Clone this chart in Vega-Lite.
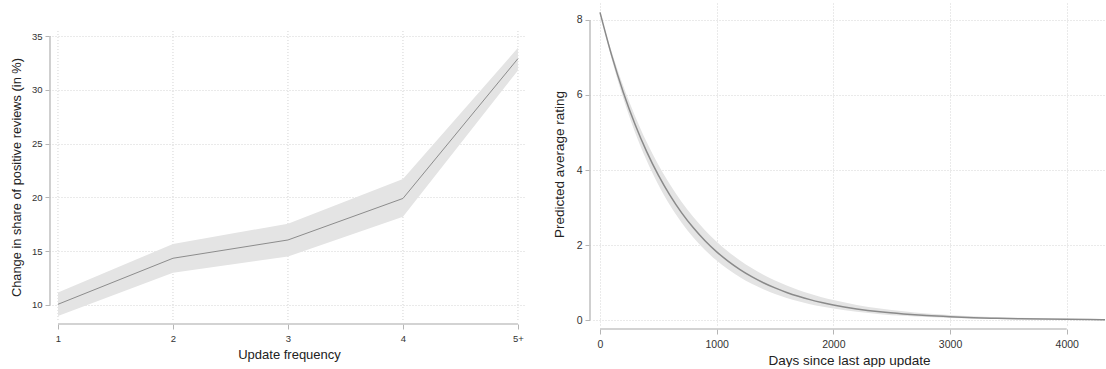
{
  "$schema": "https://vega.github.io/schema/vega-lite/v6.json",
  "padding": {"left": 10, "top": 3, "right": 0, "bottom": 0},
  "autosize": {"type": "pad"},
  "spacing": 26,
  "config": {
    "font": "Liberation Sans",
    "view": {"stroke": null},
    "axis": {
      "domain": false,
      "grid": true,
      "gridDash": [1, 2],
      "gridColor": "#d4d4d4",
      "gridWidth": 1,
      "tickColor": "#b5b5b5",
      "tickSize": 5,
      "tickWidth": 1,
      "labelColor": "#333333",
      "titleColor": "#222222",
      "titleFontWeight": "normal",
      "labelFont": "Liberation Sans",
      "titleFont": "Liberation Sans"
    }
  },
  "datasets": {
    "freq": [
      {"freq": 1, "mid": 10.06, "lower": 8.98, "upper": 11.15},
      {"freq": 2, "mid": 14.34, "lower": 13.0, "upper": 15.67},
      {"freq": 3, "mid": 16.04, "lower": 14.5, "upper": 17.55},
      {"freq": 4, "mid": 19.9, "lower": 18.2, "upper": 21.7},
      {"freq": 5, "mid": 32.9, "lower": 31.8, "upper": 33.9}
    ],
    "days": [
      {"days": 0, "mid": 8.2, "lower": 8.2, "upper": 8.2},
      {"days": 100, "mid": 7.054, "lower": 6.957, "upper": 7.152},
      {"days": 200, "mid": 6.068, "lower": 5.903, "upper": 6.238},
      {"days": 300, "mid": 5.221, "lower": 5.009, "upper": 5.441},
      {"days": 400, "mid": 4.491, "lower": 4.25, "upper": 4.746},
      {"days": 500, "mid": 3.864, "lower": 3.606, "upper": 4.139},
      {"days": 600, "mid": 3.324, "lower": 3.06, "upper": 3.611},
      {"days": 700, "mid": 2.859, "lower": 2.596, "upper": 3.149},
      {"days": 800, "mid": 2.46, "lower": 2.203, "upper": 2.747},
      {"days": 900, "mid": 2.116, "lower": 1.869, "upper": 2.396},
      {"days": 1000, "mid": 1.82, "lower": 1.586, "upper": 2.09},
      {"days": 1100, "mid": 1.566, "lower": 1.346, "upper": 1.823},
      {"days": 1200, "mid": 1.347, "lower": 1.142, "upper": 1.59},
      {"days": 1300, "mid": 1.159, "lower": 0.969, "upper": 1.387},
      {"days": 1400, "mid": 0.997, "lower": 0.822, "upper": 1.21},
      {"days": 1500, "mid": 0.858, "lower": 0.697, "upper": 1.055},
      {"days": 1600, "mid": 0.738, "lower": 0.592, "upper": 0.92},
      {"days": 1700, "mid": 0.635, "lower": 0.502, "upper": 0.803},
      {"days": 1800, "mid": 0.546, "lower": 0.426, "upper": 0.7},
      {"days": 1900, "mid": 0.47, "lower": 0.361, "upper": 0.611},
      {"days": 2000, "mid": 0.404, "lower": 0.307, "upper": 0.533},
      {"days": 2200, "mid": 0.299, "lower": 0.221, "upper": 0.405},
      {"days": 2400, "mid": 0.221, "lower": 0.159, "upper": 0.308},
      {"days": 2600, "mid": 0.164, "lower": 0.114, "upper": 0.235},
      {"days": 2800, "mid": 0.121, "lower": 0.082, "upper": 0.178},
      {"days": 3000, "mid": 0.09, "lower": 0.059, "upper": 0.136},
      {"days": 3200, "mid": 0.066, "lower": 0.043, "upper": 0.103},
      {"days": 3400, "mid": 0.049, "lower": 0.031, "upper": 0.079},
      {"days": 3600, "mid": 0.036, "lower": 0.022, "upper": 0.06},
      {"days": 3800, "mid": 0.027, "lower": 0.016, "upper": 0.045},
      {"days": 4000, "mid": 0.02, "lower": 0.012, "upper": 0.035},
      {"days": 4200, "mid": 0.015, "lower": 0.008, "upper": 0.026},
      {"days": 4400, "mid": 0.011, "lower": 0.006, "upper": 0.02}
    ],
    "freqticks": [{"t": 1}, {"t": 2}, {"t": 3}, {"t": 4}, {"t": 5}]
  },
  "hconcat": [
    {
      "width": 474,
      "height": 317,
      "layer": [
        {
          "data": {"name": "freqticks"},
          "mark": {"type": "rule", "color": "#d4d4d4", "strokeWidth": 1, "strokeDash": [1, 2]},
          "encoding": {
            "x": {"field": "t", "type": "quantitative"},
            "y": {"datum": 8.6}, "y2": {"datum": 35.56}
          }
        },
        {
          "data": {"name": "freq"},
          "mark": {"type": "area", "color": "#e4e4e4", "opacity": 1},
          "encoding": {
            "x": {
              "field": "freq", "type": "quantitative",
              "scale": {"domain": [0.948, 5.07], "nice": false, "zero": false},
              "axis": {
                "values": [1, 2, 3, 4, 5],
                "format": "d",
                "labelExpr": "datum.value == 5 ? '5+' : datum.label",
                "title": "Update frequency",
                "grid": false,
                "offset": 4, "labelPadding": 4, "titlePadding": 6,
                "labelFontSize": 9.5, "titleFontSize": 13
              }
            },
            "y": {
              "field": "lower", "type": "quantitative",
              "scale": {"domain": [8.6, 38.07], "nice": false, "zero": false},
              "axis": {
                "values": [10, 15, 20, 25, 30, 35],
                "title": "Change in share of positive reviews (in %)",
                "titleY": 174,
                "offset": 2, "labelPadding": 3, "titlePadding": 8,
                "labelFontSize": 9.5, "titleFontSize": 12.8
              }
            },
            "y2": {"field": "upper"}
          }
        },
        {
          "data": {"name": "freq"},
          "mark": {"type": "line", "color": "#8c8c8c", "strokeWidth": 1},
          "encoding": {
            "x": {"field": "freq", "type": "quantitative"},
            "y": {"field": "mid", "type": "quantitative"}
          }
        },
        {
          "data": {"values": [{}]},
          "mark": {"type": "rule", "color": "#c4c4c4", "strokeWidth": 1.6},
          "encoding": {
            "x": {"datum": 1}, "x2": {"datum": 5},
            "y": {"datum": 8.23}
          }
        },
        {
          "data": {"values": [{}]},
          "mark": {"type": "rule", "color": "#c4c4c4", "strokeWidth": 1.6},
          "encoding": {
            "x": {"datum": 0.9306},
            "y": {"datum": 10}, "y2": {"datum": 35}
          }
        }
      ]
    },
    {
      "width": 512,
      "height": 322,
      "layer": [
        {
          "data": {"name": "days"},
          "mark": {"type": "area", "color": "#e4e4e4", "opacity": 1, "interpolate": "monotone", "clip": true},
          "encoding": {
            "x": {
              "field": "days", "type": "quantitative",
              "scale": {"domain": [-60, 4328], "nice": false, "zero": false},
              "axis": {
                "values": [0, 1000, 2000, 3000, 4000],
                "format": "d",
                "title": "Days since last app update",
                "offset": 4, "labelPadding": 5, "titlePadding": 4,
                "labelFontSize": 10.5, "titleFontSize": 13.5
              }
            },
            "y": {
              "field": "lower", "type": "quantitative",
              "scale": {"domain": [-0.13, 8.45], "nice": false, "zero": false},
              "axis": {
                "values": [0, 2, 4, 6, 8],
                "title": "Predicted average rating",
                "offset": 3, "labelPadding": 3, "titlePadding": 10,
                "labelFontSize": 10.5, "titleFontSize": 13.5
              }
            },
            "y2": {"field": "upper"}
          }
        },
        {
          "data": {"name": "days"},
          "mark": {"type": "line", "color": "#8a8a8a", "strokeWidth": 1.5, "interpolate": "monotone", "clip": true},
          "encoding": {
            "x": {"field": "days", "type": "quantitative"},
            "y": {"field": "mid", "type": "quantitative"}
          }
        },
        {
          "data": {"values": [{}]},
          "mark": {"type": "rule", "color": "#c4c4c4", "strokeWidth": 1.6},
          "encoding": {
            "x": {"datum": 0}, "x2": {"datum": 4000},
            "y": {"datum": -0.237}
          }
        },
        {
          "data": {"values": [{}]},
          "mark": {"type": "rule", "color": "#c4c4c4", "strokeWidth": 1.6},
          "encoding": {
            "x": {"datum": -85.7},
            "y": {"datum": 0}, "y2": {"datum": 8}
          }
        }
      ]
    }
  ]
}
